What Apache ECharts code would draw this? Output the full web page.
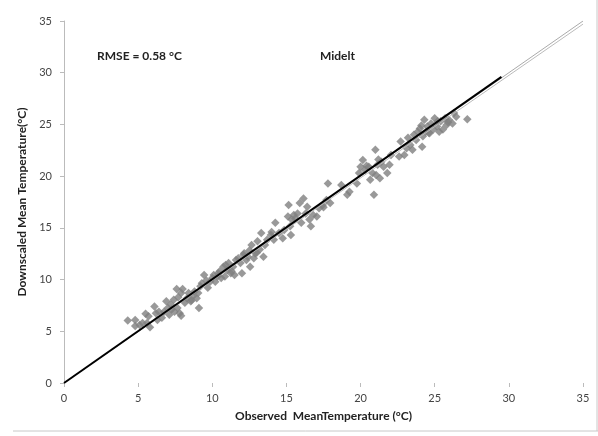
<!DOCTYPE html>
<html><head><meta charset="utf-8">
<script src="https://cdn.jsdelivr.net/npm/echarts@6/dist/echarts.min.js"></script>
<style>html,body{margin:0;padding:0;background:#fff}#c{width:598px;height:436px}</style>
</head><body><div id="c"></div>
<script>
var observed = [4.3,4.8,4.8,5.1,5.5,5.7,5.6,5.8,6.1,6.2,6.3,6.6,6.75,6.9,7.0,7.1,7.25,7.4,7.45,7.6,7.65,7.8,7.9,7.9,8.0,8.15,8.3,8.4,8.55,8.7,8.8,8.95,9.05,9.1,9.2,9.3,9.45,9.7,9.85,10.0,10.1,10.2,10.35,10.5,10.6,10.75,10.85,11.0,11.1,11.25,11.4,11.5,11.75,11.9,12.0,12.15,12.3,12.4,12.55,12.65,12.8,12.9,13.05,13.2,13.3,13.45,13.55,13.7,13.95,14.15,14.25,14.5,14.75,14.85,15.1,15.15,15.25,15.3,15.35,15.5,15.75,15.9,16.15,16.3,16.4,16.55,16.65,16.8,17.05,17.2,17.45,17.7,17.8,17.95,18.7,19.1,19.25,19.75,19.9,20.0,20.15,20.3,20.55,20.65,20.8,20.9,21.0,21.05,21.15,21.3,21.4,21.55,21.8,21.95,22.05,22.6,22.7,22.95,23.1,23.35,23.5,23.6,23.75,23.85,24.0,24.15,24.2,24.3,24.4,24.5,24.65,24.75,24.9,25.0,25.15,25.3,25.4,25.55,25.7,25.8,25.95,26.2,26.3,26.45,27.2,
  5.3,6.4,7.2,7.7,8.6,9.6,10.4,10.9,11.3,11.6,12.1,12.5,13.0,14.0,15.6,16.0,17.5,20.4,21.2,23.2,24.1,24.6,25.2,25.9];
var downscaled = [6.05,6.1,5.5,5.6,6.7,6.45,5.8,5.4,7.4,6.75,6.1,6.3,6.9,7.9,7.25,6.6,7.1,8.05,6.9,9.1,7.25,6.75,6.5,8.7,9.1,7.75,8.2,8.7,7.9,8.4,8.85,8.2,8.7,7.25,9.35,9.65,10.45,9.2,9.8,10.15,10.45,9.8,10.3,10.8,10.15,11.25,10.3,10.9,11.6,10.6,11.25,10.45,12.05,11.6,10.6,12.55,11.9,12.2,11.25,13.35,12.05,12.55,13.7,12.9,14.5,12.2,13.35,13.85,14.3,13.85,15.5,14.5,14.0,14.8,16.1,17.2,15.15,14.3,15.8,16.25,16.4,17.4,17.85,16.4,17.05,15.8,15.15,16.25,16.1,16.9,17.2,17.7,19.3,17.4,19.15,18.2,18.5,19.3,20.3,20.9,21.55,20.6,20.9,19.65,20.3,18.2,22.55,20.1,21.1,19.8,21.4,20.9,20.3,21.1,22.05,21.9,23.35,22.05,22.7,23.0,22.55,24.0,23.5,24.3,24.6,22.85,23.85,25.45,24.3,24.8,24.15,25.1,24.5,25.6,24.8,24.3,25.3,24.5,25.6,24.95,25.45,25.1,26.1,25.75,25.5,
  5.8,6.9,7.6,8.3,8.0,9.9,10.6,11.4,10.8,11.9,12.4,12.8,12.6,14.6,15.9,15.5,17.0,21.0,21.6,23.7,24.9,24.2,25.3,25.2];
var ticks = [0,5,10,15,20,25,30,35];
var trendLine = [[0,0],[29.5,29.6]];
var oneToOne = [[0,0],[35,35]];
var oneToOneB = [[0,0],[35,34.7]];
var rmseText = 'RMSE = 0.58 °C';
var siteText = 'Midelt';

var pts = observed.map(function(v,i){return [v, downscaled[i]];});
var font = 'Lato, "Open Sans", sans-serif';
var chart = echarts.init(document.getElementById('c'));
chart.setOption({
  animation:false,
  backgroundColor:'#fff',
  grid:{left:64,right:15,top:21,bottom:53,containLabel:false},
  xAxis:{type:'value',min:0,max:35,interval:5,
    name:'Observed  MeanTemperature (°C)',nameLocation:'middle',nameGap:27,
    nameTextStyle:{fontFamily:font,fontWeight:'bold',fontSize:12,color:'#222'},
    axisLine:{show:false},axisTick:{show:true,length:4,lineStyle:{color:'#bbb'}},
    axisLabel:{fontFamily:font,fontSize:11,color:'#444',margin:10},splitLine:{show:false}},
  yAxis:{type:'value',min:0,max:35,interval:5,
    name:'Downscaled Mean Temperature(°C)',nameLocation:'middle',nameGap:30,
    nameTextStyle:{fontFamily:font,fontWeight:'bold',fontSize:12,color:'#222'},
    axisLine:{show:true,lineStyle:{color:'#bbb'}},axisTick:{show:true,length:4,lineStyle:{color:'#bbb'}},
    axisLabel:{fontFamily:font,fontSize:11,color:'#444',margin:12},splitLine:{show:false}},
  graphic:[
    {type:'text',left:97,top:50,style:{text:rmseText,font:'bold 12px '+font,fill:'#222'}},
    {type:'text',left:320,top:50,style:{text:siteText,font:'bold 12px '+font,fill:'#222'}},
    {type:'line',shape:{x1:13,y1:431,x2:598,y2:431},style:{stroke:'#c8c8c8',lineWidth:1}},
    {type:'line',shape:{x1:597,y1:0,x2:597,y2:431},style:{stroke:'#c8c8c8',lineWidth:1}}
  ],
  series:[
    {type:'scatter',data:pts,symbol:'diamond',symbolSize:8.5,itemStyle:{color:'#7f7f7f'},z:2},
    {type:'line',data:oneToOne,symbol:'none',lineStyle:{color:'#aaa',width:1},z:3},
    {type:'line',data:oneToOneB,symbol:'none',lineStyle:{color:'#bbb',width:1},z:3},
    {type:'line',data:trendLine,symbol:'none',lineStyle:{color:'#000',width:2},z:4}
  ]
});
</script></body></html>
